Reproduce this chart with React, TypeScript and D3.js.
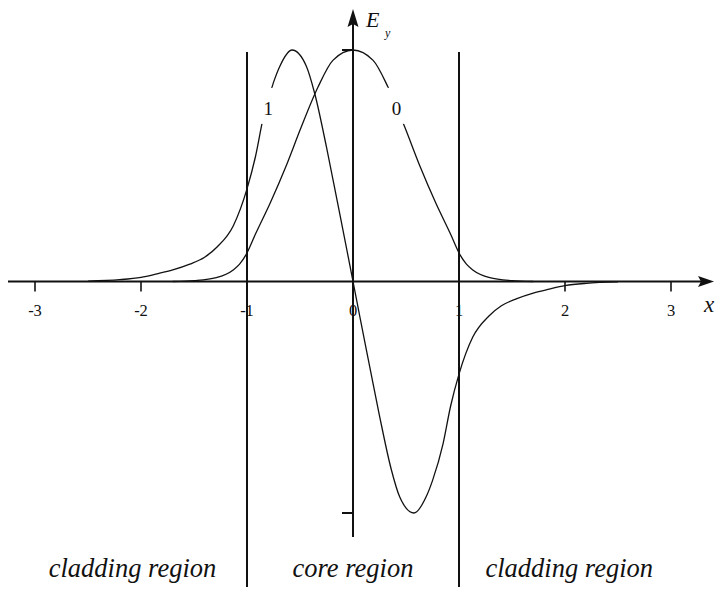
import React from "react";
import * as d3 from "d3";

// Field profiles of the two lowest guided modes of a symmetric slab guide,
// sampled along the transverse coordinate x (core spans -1..1).
const mode0X = [-1.7, -1.5, -1.29, -1.13, -1.07, -1.01, -0.92, -0.78, -0.63, -0.49, -0.33, -0.19, 0, 0.19, 0.33, 0.49, 0.63, 0.78, 0.92, 1.01, 1.07, 1.13, 1.29, 1.5, 1.7];
const mode0E = [0, 0.004, 0.017, 0.05, 0.075, 0.115, 0.205, 0.34, 0.5, 0.665, 0.84, 0.955, 1, 0.955, 0.84, 0.665, 0.5, 0.34, 0.205, 0.115, 0.075, 0.05, 0.017, 0.004, 0];

const mode1X = [-2.5, -2.2, -2.0, -1.85, -1.7, -1.54, -1.4, -1.28, -1.13, -1.0, -0.92, -0.85, -0.75, -0.69, -0.575, -0.44, -0.36, -0.25, -0.15, -0.07, 0, 0.07, 0.15, 0.25, 0.36, 0.44, 0.575, 0.69, 0.75, 0.85, 0.92, 1.0, 1.13, 1.28, 1.4, 1.54, 1.7, 1.85, 2.0, 2.2, 2.5];
const mode1E = [0.002, 0.008, 0.018, 0.033, 0.05, 0.075, 0.105, 0.15, 0.24, 0.4, 0.54, 0.7, 0.86, 0.93, 1, 0.93, 0.81, 0.58, 0.35, 0.165, 0, -0.165, -0.35, -0.58, -0.81, -0.93, -1, -0.93, -0.86, -0.7, -0.54, -0.4, -0.24, -0.15, -0.105, -0.075, -0.05, -0.033, -0.018, -0.008, -0.002];

const xTicks = [-3, -2, -1, 0, 1, 2, 3];
const xTickLabels = ["-3", "-2", "-1", "0", "1", "2", "3"];
const yTicks = [1, -1];
const boundaries = [-1, 1];
const regionNames = ["cladding region", "core region", "cladding region"];
const regionCenters = [-2.08, 0, 2.04];
const modeLabels = ["1", "0"];
const modeLabelX = [-0.8, 0.41];
const modeLabelE = [0.75, 0.75];

const W = 720;
const H = 590;

export default function App() {
  const x = d3.scaleLinear().domain([-3, 3]).range([35, 671]);
  const y = d3.scaleLinear().domain([-1, 1]).range([513, 50]);
  const x0 = x(0);
  const y0 = y(0);

  const line = d3
    .line<[number, number]>()
    .x((d) => x(d[0]))
    .y((d) => y(d[1]))
    .curve(d3.curveMonotoneX);

  const m0 = mode0X.map((v, i) => [v, mode0E[i]] as [number, number]);
  const m1 = mode1X.map((v, i) => [v, mode1E[i]] as [number, number]);

  const serif = "'Liberation Serif', 'Times New Roman', serif";

  return (
    <svg
      width={W}
      height={H}
      viewBox={`0 0 ${W} ${H}`}
      style={{ position: "absolute", left: 0, top: 0, display: "block", background: "#fff" }}
    >
      <rect x={0} y={0} width={W} height={H} fill="#fff" />

      {/* mode curves */}
      <path d={line(m0) || ""} fill="none" stroke="#111" strokeWidth={1.3} />
      <path d={line(m1) || ""} fill="none" stroke="#111" strokeWidth={1.3} />

      {/* mode labels sit on the curves with a blank surround */}
      {modeLabels.map((t, i) => (
        <g key={"ml" + i}>
          <rect
            x={x(modeLabelX[i]) - 11}
            y={y(modeLabelE[i]) - 20}
            width={22}
            height={36}
            fill="#fff"
          />
          <text
            x={x(modeLabelX[i])}
            y={y(modeLabelE[i]) + 7}
            textAnchor="middle"
            fontFamily={serif}
            fontSize={19}
            fill="#111"
          >
            {t}
          </text>
        </g>
      ))}

      {/* core / cladding boundaries */}
      {boundaries.map((b) => (
        <line key={"b" + b} x1={x(b)} x2={x(b)} y1={52} y2={587} stroke="#111" strokeWidth={2} />
      ))}

      {/* x axis */}
      <line x1={8} x2={704} y1={y0} y2={y0} stroke="#111" strokeWidth={2} />
      <path d={`M${714},${y0} L${698},${y0 - 5.5} L${701},${y0} L${698},${y0 + 5.5} Z`} fill="#111" />
      {xTicks.map((t, i) => (
        <g key={"xt" + t}>
          <line x1={x(t)} x2={x(t)} y1={y0} y2={y0 + 10} stroke="#111" strokeWidth={1.6} />
          <text
            x={x(t)}
            y={y0 + 34}
            textAnchor="middle"
            fontFamily={serif}
            fontSize={16.5}
            fill="#111"
          >
            {xTickLabels[i]}
          </text>
        </g>
      ))}
      <text x={709} y={y0 + 30} textAnchor="middle" fontFamily={serif} fontStyle="italic" fontSize={23} fill="#111">
        x
      </text>

      {/* y axis */}
      <line x1={x0} x2={x0} y1={537} y2={22} stroke="#111" strokeWidth={2} />
      <path d={`M${x0},${9} L${x0 - 5.5},${27} L${x0},${24} L${x0 + 5.5},${27} Z`} fill="#111" />
      {yTicks.map((t) => (
        <line key={"yt" + t} x1={x0 - 11} x2={x0} y1={y(t)} y2={y(t)} stroke="#111" strokeWidth={2} />
      ))}
      <text x={366} y={27} fontFamily={serif} fontStyle="italic" fontSize={22} fill="#111">
        E
      </text>
      <text x={385} y={37} fontFamily={serif} fontStyle="italic" fontSize={12} fill="#111">
        y
      </text>

      {/* region names */}
      {regionNames.map((t, i) => (
        <text
          key={"rn" + i}
          x={x(regionCenters[i])}
          y={577}
          textAnchor="middle"
          fontFamily={serif}
          fontStyle="italic"
          fontSize={26.5}
          fill="#111"
        >
          {t}
        </text>
      ))}
    </svg>
  );
}
